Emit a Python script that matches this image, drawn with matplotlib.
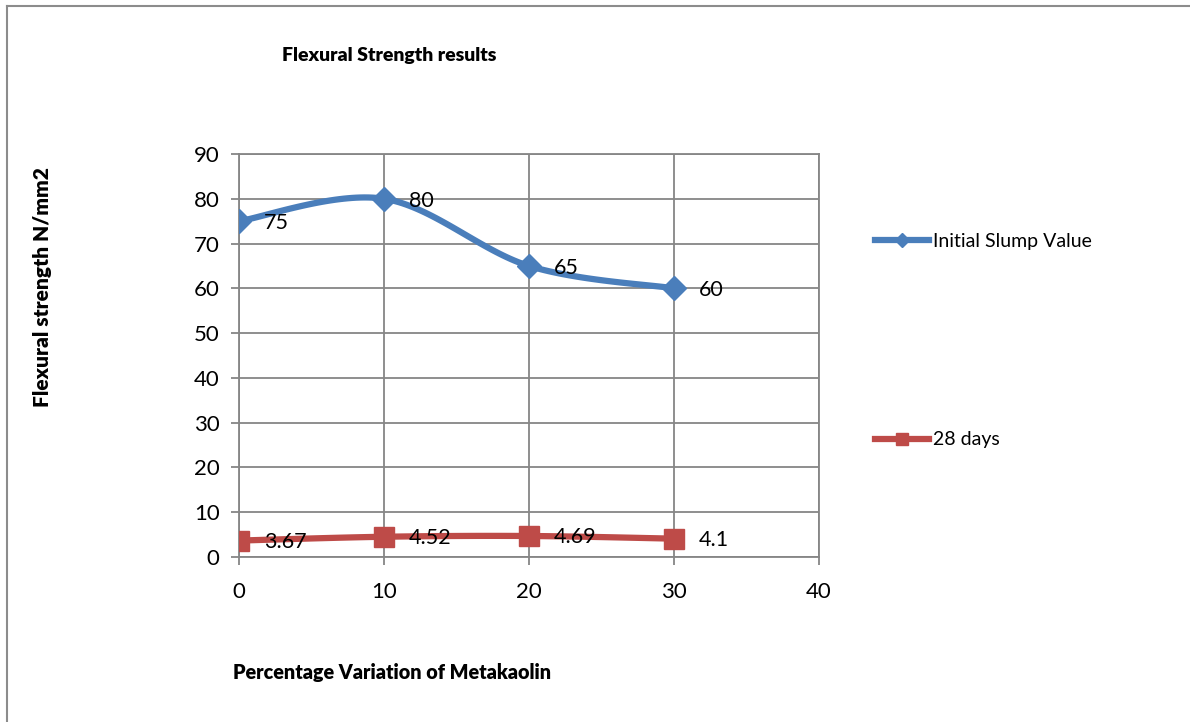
import numpy as np
import matplotlib
matplotlib.use("Agg")
import matplotlib.pyplot as plt
from matplotlib.lines import Line2D

x_vals = [0, 10, 20, 30]
slump = [75, 80, 65, 60]
days28 = [3.67, 4.52, 4.69, 4.1]
slump_labels = ["75", "80", "65", "60"]
days28_labels = ["3.67", "4.52", "4.69", "4.1"]
series_names = ["Initial Slump Value", "28 days"]
title = "Flexural Strength results"
xlabel = "Percentage Variation of Metakaolin"
ylabel = "Flexural strength N/mm2"

plt.rcParams['font.family'] = ['Lato', 'DejaVu Sans']

def smooth(xs, ys, n=40):
    # Catmull-Rom style smoothing (like Excel smoothed lines)
    xs = np.asarray(xs, float); ys = np.asarray(ys, float)
    px = np.concatenate([[xs[0]], xs, [xs[-1]]])
    py = np.concatenate([[ys[0]], ys, [ys[-1]]])
    ox, oy = [], []
    for i in range(1, len(px) - 2):
        p0x, p1x, p2x, p3x = px[i-1], px[i], px[i+1], px[i+2]
        p0y, p1y, p2y, p3y = py[i-1], py[i], py[i+1], py[i+2]
        t = np.linspace(0, 1, n)
        c1x = p1x + (p2x - p0x) / 6; c1y = p1y + (p2y - p0y) / 6
        c2x = p2x - (p3x - p1x) / 6; c2y = p2y - (p3y - p1y) / 6
        bx = (1-t)**3*p1x + 3*(1-t)**2*t*c1x + 3*(1-t)*t**2*c2x + t**3*p2x
        by = (1-t)**3*p1y + 3*(1-t)**2*t*c1y + 3*(1-t)*t**2*c2y + t**3*p2y
        ox.extend(bx); oy.extend(by)
    return np.array(ox), np.array(oy)

blue = "#4a7ebb"
red = "#be4b48"
grid_c = "#868686"

fig = plt.figure(figsize=(11.90, 7.22), dpi=100)
ax = fig.add_axes([239/1190, 1-557/722, (819-239)/1190, (557-154)/722])

sx, sy = smooth(x_vals, slump)
ax.plot(sx, sy, color=blue, lw=4.5, solid_capstyle='round', zorder=3)
ax.plot(x_vals, slump, ls='none', marker='D', ms=12, color=blue, zorder=4)
rx, ry = smooth(x_vals, days28)
ax.plot(rx, ry, color=red, lw=4.5, solid_capstyle='round', zorder=3)
ax.plot(x_vals, days28, ls='none', marker='s', ms=15, color=red, zorder=4)

for xv, yv, lab in zip(x_vals, slump, slump_labels):
    ax.annotate(lab, (xv, yv), xytext=(18, -1.5), textcoords='offset points',
                ha='left', va='center', fontsize=15.5, zorder=5)
for xv, yv, lab in zip(x_vals, days28, days28_labels):
    ax.annotate(lab, (xv, yv), xytext=(18, -1), textcoords='offset points',
                ha='left', va='center', fontsize=15.5, zorder=5)

ax.set_xlim(0, 40)
ax.set_ylim(0, 90)
ax.set_xticks(range(0, 41, 10))
ax.set_yticks(range(0, 91, 10))
ax.grid(True, color=grid_c, lw=1.3)
ax.set_axisbelow(True)
for s in ax.spines.values():
    s.set_color(grid_c)
    s.set_linewidth(1.3)
ax.tick_params(axis='both', labelsize=16, color=grid_c, length=6, width=1.3, pad=8)
ax.tick_params(axis='x', direction='out', pad=12)

fig.text(389/1190, 1-56/722, title, ha='center', va='center', fontsize=14, fontweight='heavy')
fig.text(392/1190, 1-673/722, xlabel, ha='center', va='center', fontsize=14.2, fontweight='heavy')
fig.text(43/1190, 1-287/722, ylabel, ha='center', va='center', fontsize=15, fontweight='heavy', rotation=90)

handles = [Line2D([0], [0], color=blue, lw=4.5, marker='D', ms=7),
           Line2D([0], [0], color=red, lw=4.5, marker='s', ms=9)]
fig.legend(handles[:1], series_names[:1], loc='center left', bbox_to_anchor=(875/1190, 1-241/722),
           frameon=False, fontsize=14, handlelength=2.8, handletextpad=0.2, borderaxespad=0, borderpad=0)
fig.legend(handles[1:], series_names[1:], loc='center left', bbox_to_anchor=(875/1190, 1-440/722),
           frameon=False, fontsize=14, handlelength=2.8, handletextpad=0.2, borderaxespad=0, borderpad=0)

fig.add_artist(Line2D([7/1190, 7/1190], [0, 1-6/722], color='#8c8c8c', lw=1.5))
fig.add_artist(Line2D([7/1190, 1], [1-6/722, 1-6/722], color='#8c8c8c', lw=1.5))

fig.savefig("out.png", dpi=100, facecolor='white')
